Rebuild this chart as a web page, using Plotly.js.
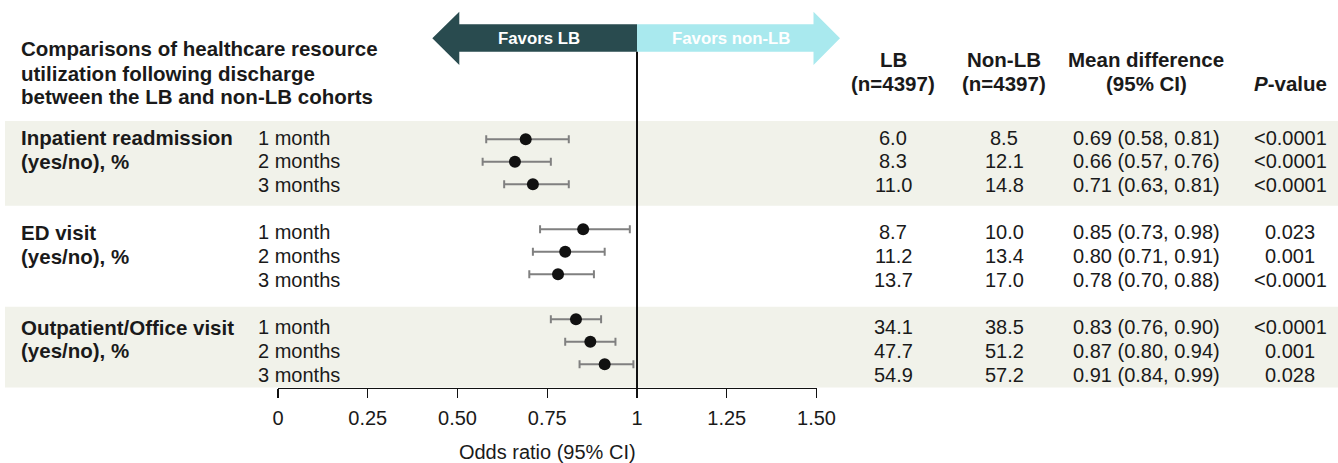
<!DOCTYPE html>
<html>
<head>
<meta charset="utf-8">
<script src="https://cdn.plot.ly/plotly-3.0.1.min.js"></script>
<style>html,body{margin:0;padding:0;background:#fff;}#chart{width:1338px;height:463px;}</style>
</head>
<body>
<div id="chart"></div>
<script>
// ---- data ----
const groups = ['Inpatient readmission', 'ED visit', 'Outpatient/Office visit'];
const groupSub = '(yes/no), %';
const periods = ['1 month', '2 months', '3 months'];
const oddsRatio = [0.69, 0.66, 0.71, 0.85, 0.80, 0.78, 0.83, 0.87, 0.91];
const ciLower   = [0.58, 0.57, 0.63, 0.73, 0.71, 0.70, 0.76, 0.80, 0.84];
const ciUpper   = [0.81, 0.76, 0.81, 0.98, 0.91, 0.88, 0.90, 0.94, 0.99];
const lbPct     = ['6.0', '8.3', '11.0', '8.7', '11.2', '13.7', '34.1', '47.7', '54.9'];
const nonLbPct  = ['8.5', '12.1', '14.8', '10.0', '13.4', '17.0', '38.5', '51.2', '57.2'];
const pValues   = ['<0.0001', '<0.0001', '<0.0001', '0.023', '0.001', '<0.0001', '<0.0001', '0.001', '0.028'];
const xTickVals = [0, 0.25, 0.5, 0.75, 1, 1.25, 1.5];
const xTickText = ['0', '0.25', '0.50', '0.75', '1', '1.25', '1.50'];
const titleLines = ['Comparisons of healthcare resource', 'utilization following discharge', 'between the LB and non-LB cohorts'];
const colHeaders = [['LB', '(n=4397)'], ['Non-LB', '(n=4397)'], ['Mean difference', '(95% CI)'], ['', '<i>P</i>-value']];
const favorLabels = ['Favors LB', 'Favors non-LB'];
const xTitle = 'Odds ratio (95% CI)';

// ---- layout helpers ----
const W = 1338, H = 463;
const px = v => v / W;
const py = v => 1 - v / H;
const FONT = '"Liberation Sans", Arial, Helvetica, sans-serif';
const TXT = '#1a1a1a';
const BOLD = 20.5;

const rowPos = [];
groups.forEach((g, gi) => periods.forEach((p, pi) => rowPos.push(gi * 4 + pi)));
const meanDiff = oddsRatio.map((v, i) => v.toFixed(2) + ' (' + ciLower[i].toFixed(2) + ', ' + ciUpper[i].toFixed(2) + ')');

const traces = [
  {
    type: 'scatter', mode: 'markers',
    x: oddsRatio, y: rowPos, xaxis: 'x', yaxis: 'y',
    marker: {size: 12, color: '#111111'},
    error_x: {
      type: 'data', symmetric: false,
      array: oddsRatio.map((v, i) => ciUpper[i] - v),
      arrayminus: oddsRatio.map((v, i) => v - ciLower[i]),
      color: '#808080', thickness: 2, width: 4
    },
    hoverinfo: 'skip', showlegend: false
  },
  {
    type: 'scatter', mode: 'markers', x: rowPos.map(() => 0), y: rowPos,
    xaxis: 'x', yaxis: 'y2', marker: {opacity: 0}, hoverinfo: 'skip', showlegend: false
  }
];

const ann = [];
const addA = (o) => ann.push(Object.assign({showarrow: false, font: {family: FONT, size: 20, color: TXT}}, o));
const boldFont = {family: FONT, size: BOLD, color: TXT};

// title lines
[48.3, 73.3, 96.7].forEach((yy, i) => addA({text: '<b>' + titleLines[i] + '</b>', x: px(19), xref: 'paper', xanchor: 'left', y: py(yy), yref: 'paper', yanchor: 'middle', font: boldFont}));

// column headers
const colX = [893, 1004, 1146, 1290];
colHeaders.forEach((h, ci) => {
  if (h[0]) addA({text: '<b>' + h[0] + '</b>', x: px(colX[ci]), xref: 'paper', xanchor: 'center', y: py(60), yref: 'paper', yanchor: 'middle', font: boldFont});
  addA({text: '<b>' + h[1] + '</b>', x: px(colX[ci]), xref: 'paper', xanchor: 'center', y: py(83.5), yref: 'paper', yanchor: 'middle', font: boldFont});
});

// group labels
groups.forEach((g, gi) => {
  addA({text: '<b>' + g + '</b>', x: px(19), xref: 'paper', xanchor: 'left', y: gi * 4, yref: 'y2', yanchor: 'middle', font: boldFont});
  addA({text: '<b>' + groupSub + '</b>', x: px(19), xref: 'paper', xanchor: 'left', y: gi * 4 + 1, yref: 'y2', yanchor: 'middle', font: boldFont});
});

// row labels and table values
rowPos.forEach((r, i) => {
  addA({text: periods[i % 3], x: px(256), xref: 'paper', xanchor: 'left', y: r, yref: 'y2', yanchor: 'middle'});
  [lbPct[i], nonLbPct[i], meanDiff[i], pValues[i]].forEach((t, ci) => {
    addA({text: t.replace('<', '&lt;'), x: px(colX[ci]), xref: 'paper', xanchor: 'center', y: r, yref: 'y2', yanchor: 'middle'});
  });
});

// favors labels
addA({text: '<b>' + favorLabels[0] + '</b>', x: px(539), xref: 'paper', xanchor: 'center', y: py(38.3), yref: 'paper', yanchor: 'middle', font: {family: FONT, size: 16.8, color: '#ffffff'}});
addA({text: '<b>' + favorLabels[1] + '</b>', x: px(731), xref: 'paper', xanchor: 'center', y: py(38.3), yref: 'paper', yanchor: 'middle', font: {family: FONT, size: 16.8, color: '#ffffff'}});

const arrowPath = (tip, base, mid) =>
  `M ${px(tip)} ${py(38.3)} L ${px(base)} ${py(11.7)} L ${px(base)} ${py(24.3)} L ${px(mid)} ${py(24.3)} ` +
  `L ${px(mid)} ${py(51.7)} L ${px(base)} ${py(51.7)} L ${px(base)} ${py(65)} Z`;

const shapes = [
  {type: 'rect', xref: 'paper', yref: 'paper', x0: px(5), x1: 1, y0: py(205.7), y1: py(121), fillcolor: '#f1f2ea', line: {width: 0}, layer: 'below'},
  {type: 'rect', xref: 'paper', yref: 'paper', x0: px(5), x1: 1, y0: py(387.5), y1: py(306.7), fillcolor: '#f1f2ea', line: {width: 0}, layer: 'below'},
  {type: 'path', xref: 'paper', yref: 'paper', layer: 'above', path: arrowPath(432.3, 459.3, 637), fillcolor: '#294b4f', line: {width: 0}},
  {type: 'path', xref: 'paper', yref: 'paper', layer: 'above', path: arrowPath(840, 813.5, 637), fillcolor: '#a9e9ee', line: {width: 0}},
  {type: 'line', xref: 'x', yref: 'paper', x0: 1, x1: 1, y0: py(397.5), y1: py(51.7), line: {color: '#111111', width: 2}, layer: 'above'}
];

const layout = {
  width: W, height: H,
  margin: {l: 0, r: 0, t: 0, b: 0, pad: 0},
  paper_bgcolor: '#ffffff', plot_bgcolor: 'rgba(0,0,0,0)',
  font: {family: FONT, size: 20, color: TXT},
  showlegend: false,
  xaxis: {
    domain: [px(278), px(278 + 1.5 * 359)], range: [0, 1.5],
    anchor: 'free', position: py(388),
    showline: true, linecolor: '#111111', linewidth: 1.3,
    ticks: 'outside', ticklen: 9, tickwidth: 1.3, tickcolor: '#111111',
    ticklabelstandoff: 3,
    tickvals: xTickVals, ticktext: xTickText,
    tickfont: {family: FONT, size: 20, color: TXT},
    showgrid: false, zeroline: false, fixedrange: true,
    title: {text: xTitle, font: {family: FONT, size: 20, color: TXT}, standoff: 22}
  },
  yaxis: {domain: [0, 1], range: [(H - 139.3) / 22.5, -139.3 / 22.5], visible: false, fixedrange: true},
  yaxis2: {domain: [0, 1], overlaying: 'y', range: [(H - 137.5) / 23.7, -137.5 / 23.7], visible: false, fixedrange: true},
  shapes: shapes,
  annotations: ann
};

Plotly.newPlot('chart', traces, layout, {staticPlot: true, displayModeBar: false});
</script>
</body>
</html>
